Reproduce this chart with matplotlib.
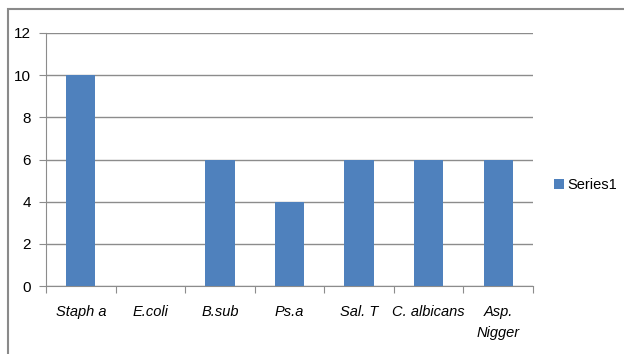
import matplotlib
matplotlib.use("Agg")
import matplotlib.pyplot as plt
from matplotlib.patches import Rectangle
import numpy as np

categories = ["Staph a", "E.coli", "B.sub", "Ps.a", "Sal. T", "C. albicans", "Asp.\nNigger"]
values = [10, 0, 6, 4, 6, 6, 6]
yticks = [0, 2, 4, 6, 8, 10, 12]
series_name = "Series1"

plt.rcParams['font.family'] = ['Liberation Sans Narrow', 'Liberation Sans', 'DejaVu Sans']

W, H = 624, 354
fig = plt.figure(figsize=(W/100, H/100), dpi=100)
ax = fig.add_axes([46/W, 1-286/H, (533-46)/W, (286-33)/H])

x = np.arange(len(categories))
ax.bar(x, values, width=0.42, color="#4F81BD", label=series_name, zorder=3)

ax.set_xlim(-0.5, len(categories)-0.5)
ax.set_ylim(0, 12)
ax.set_yticks(yticks)
ax.set_yticklabels([str(v) for v in yticks], fontsize=11)
ax.grid(axis='y', color="#8c8c8c", linewidth=1.0, zorder=0)
ax.set_axisbelow(True)

ax.set_xticks(np.arange(-0.5, len(categories), 1.0))
ax.set_xticklabels([])
ax.set_xticks(x, minor=True)
ax.set_xticklabels(categories, minor=True, fontsize=10.5, style='italic', linespacing=1.6)
ax.tick_params(axis='x', which='major', length=5, color="#8c8c8c", direction='out')
ax.tick_params(axis='x', which='minor', length=0, pad=14)
ax.tick_params(axis='y', length=5, color="#8c8c8c", pad=6)

for s in ['top', 'right']:
    ax.spines[s].set_visible(False)
for s in ['left', 'bottom']:
    ax.spines[s].set_color("#8c8c8c")

ax.legend(loc='center left', bbox_to_anchor=(541/W, 1-185/H), bbox_transform=fig.transFigure,
          frameon=False, fontsize=10.5, handlelength=0.7, handleheight=0.7, handletextpad=0.2)

fig.patches.append(Rectangle((8/W, -0.1), 1.2, 1 - 9/H + 0.1, transform=fig.transFigure,
                             fill=False, edgecolor="#8a8a8a", linewidth=1.5))

fig.savefig("out.png", dpi=100)
